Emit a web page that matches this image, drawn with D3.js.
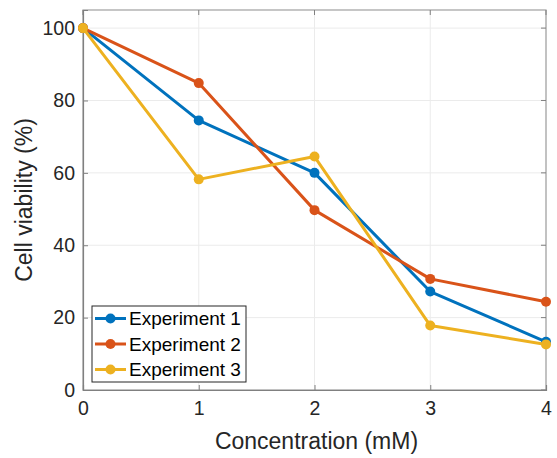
<!DOCTYPE html>
<html>
<head>
<meta charset="utf-8">
<script src="https://cdn.jsdelivr.net/npm/d3@7"></script>
<style>
  html, body { margin: 0; padding: 0; background: #fff; }
  svg { display: block; font-family: Arial, "Liberation Sans", Helvetica, sans-serif; }
</style>
</head>
<body>
<svg id="chart" width="557" height="458"></svg>
<script>
// Cell viability versus concentration for three experiments
const concentrations = [0, 1, 2, 3, 4];
const experiment1 = [100, 74.5, 60.0, 27.2, 13.3];
const experiment2 = [100, 84.8, 49.7, 30.7, 24.4];
const experiment3 = [100, 58.2, 64.5, 17.8, 12.6];
const seriesNames = ["Experiment 1", "Experiment 2", "Experiment 3"];
const seriesColors = ["#0072BD", "#D95319", "#EDB120"];
const xTicks = [0, 1, 2, 3, 4];
const yTicks = [0, 20, 40, 60, 80, 100];

const series = [experiment1, experiment2, experiment3].map((vals, i) => ({
  name: seriesNames[i],
  color: seriesColors[i],
  points: concentrations.map((c, j) => ({ x: c, y: vals[j] }))
}));

const svg = d3.select("#chart");
const margin = { left: 83, top: 10, right: 11, bottom: 68 };
const W = 557, H = 458;
const iw = W - margin.left - margin.right;
const ih = H - margin.top - margin.bottom;

const x = d3.scaleLinear().domain([0, 4]).range([0, iw]);
const y = d3.scaleLinear().domain([0, 105]).range([ih, 0]);

const g = svg.append("g").attr("transform", `translate(${margin.left},${margin.top})`);

// grid
g.append("g").selectAll("line.gx").data(xTicks).join("line")
  .attr("x1", d => x(d)).attr("x2", d => x(d))
  .attr("y1", 0).attr("y2", ih)
  .attr("stroke", "#ebebeb").attr("stroke-width", 1);
g.append("g").selectAll("line.gy").data(yTicks).join("line")
  .attr("y1", d => y(d)).attr("y2", d => y(d))
  .attr("x1", 0).attr("x2", iw)
  .attr("stroke", "#ebebeb").attr("stroke-width", 1);

// box
g.append("rect").attr("x", 0).attr("y", 0).attr("width", iw).attr("height", ih)
  .attr("fill", "none").attr("stroke", "#a0a0a0").attr("stroke-width", 1.2);

// axes
const xAxis = d3.axisBottom(x).tickValues(xTicks).tickSize(-5).tickPadding(11).tickFormat(d3.format("d"));
const yAxis = d3.axisLeft(y).tickValues(yTicks).tickSize(-5).tickPadding(8).tickFormat(d3.format("d"));

const gx = g.append("g").attr("transform", `translate(0,${ih})`).call(xAxis);
const gy = g.append("g").call(yAxis);
[gx, gy].forEach(a => {
  a.select(".domain").attr("stroke", "#808080").attr("stroke-width", 1.2);
  a.selectAll(".tick line").attr("stroke", "#808080");
  a.selectAll(".tick text").attr("fill", "#262626").style("font-size", "19.5px");
});

// top/right tick marks
g.append("g").selectAll("line").data(xTicks).join("line")
  .attr("x1", d => x(d)).attr("x2", d => x(d)).attr("y1", 0).attr("y2", 5)
  .attr("stroke", "#808080");
g.append("g").selectAll("line").data(yTicks).join("line")
  .attr("y1", d => y(d)).attr("y2", d => y(d)).attr("x1", iw).attr("x2", iw - 5)
  .attr("stroke", "#808080");

// axis titles
svg.append("text").attr("x", margin.left + iw / 2 + 2).attr("y", 449)
  .attr("text-anchor", "middle").attr("fill", "#262626").style("font-size", "23px")
  .text("Concentration (mM)");
svg.append("text")
  .attr("transform", `translate(32,${margin.top + ih / 2}) rotate(-90)`)
  .attr("text-anchor", "middle").attr("fill", "#262626").style("font-size", "23px")
  .text("Cell viability (%)");

// lines and markers
const line = d3.line().x(d => x(d.x)).y(d => y(d.y));
const sg = g.selectAll("g.series").data(series).join("g").attr("class", "series");
sg.append("path").attr("d", d => line(d.points))
  .attr("fill", "none").attr("stroke", d => d.color).attr("stroke-width", 3)
  .attr("stroke-linejoin", "round");
sg.each(function(s) {
  d3.select(this).selectAll("circle").data(s.points).join("circle")
    .attr("cx", d => x(d.x)).attr("cy", d => y(d.y)).attr("r", 5)
    .attr("fill", s.color);
});

// legend
const lg = svg.append("g").attr("transform", "translate(92,306)");
lg.append("rect").attr("width", 154).attr("height", 76)
  .attr("fill", "#fff").attr("stroke", "#262626").attr("stroke-width", 1);
series.forEach((s, i) => {
  const ly = 12.5 + i * 25.5;
  lg.append("line").attr("x1", 3).attr("x2", 34).attr("y1", ly).attr("y2", ly)
    .attr("stroke", s.color).attr("stroke-width", 3);
  lg.append("circle").attr("cx", 18.5).attr("cy", ly).attr("r", 5).attr("fill", s.color);
  lg.append("text").attr("x", 37).attr("y", ly).attr("dy", "0.35em")
    .attr("fill", "#000").style("font-size", "19px").text(s.name);
});
</script>
</body>
</html>
